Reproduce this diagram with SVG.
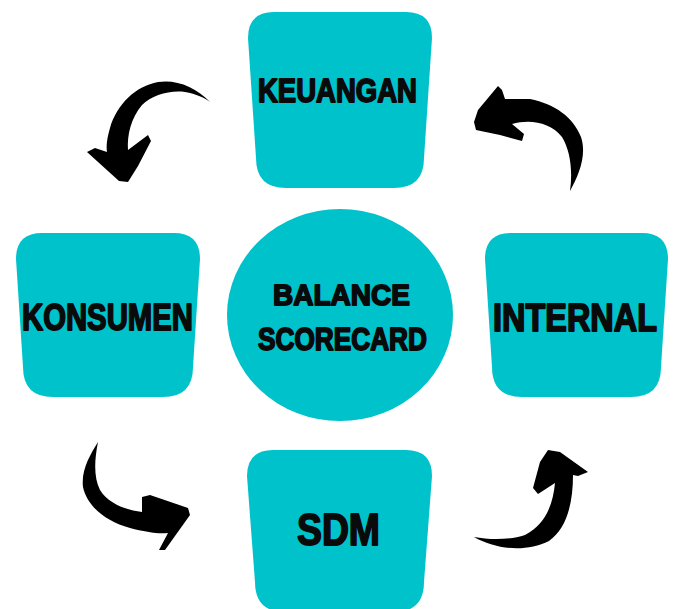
<svg xmlns="http://www.w3.org/2000/svg" width="675" height="609" viewBox="0 0 675 609">
  <style>
    .node { fill: #00C2CB; }
    .label { font-family: "Liberation Sans", "DejaVu Sans", Arial, sans-serif; font-weight: bold; fill: #0a0a0a; stroke: #0a0a0a; stroke-width: 1.8; stroke-linejoin: round; }
    .arrow { fill: #000; }
  </style>
  <rect width="675" height="609" fill="#fff"/>

  <!-- top: KEUANGAN -->
  <g id="keuangan">
    <path class="node" d="M274,12 H406 Q432,12 432,38 L424,158 Q424,188 394,188 H286 Q256,188 256,158 L248,38 Q248,12 274,12 Z"/>
    <text class="label" transform="translate(258,102) scale(0.834,1)" font-size="33">KEUANGAN</text>
  </g>

  <!-- left: KONSUMEN -->
  <g id="konsumen">
    <path class="node" d="M42,233 H174 Q200,233 200,259 L193,367 Q193,397 163,397 H53 Q23,397 23,367 L16,259 Q16,233 42,233 Z"/>
    <text class="label" transform="translate(22,330) scale(0.792,1)" font-size="37">KONSUMEN</text>
  </g>

  <!-- centre: BALANCE SCORECARD -->
  <g id="balance-scorecard">
    <ellipse class="node" cx="340" cy="315" rx="113" ry="106"/>
    <text class="label" transform="translate(273,305) scale(0.934,1)" font-size="30">BALANCE</text>
    <text class="label" transform="translate(258,350) scale(0.846,1)" font-size="31">SCORECARD</text>
  </g>

  <!-- right: INTERNAL -->
  <g id="internal">
    <path class="node" d="M511,233 H642 Q668,233 668,259 L661,367 Q661,397 631,397 H522 Q492,397 492,367 L485,259 Q485,233 511,233 Z"/>
    <text class="label" transform="translate(493,331) scale(0.854,1)" font-size="38">INTERNAL</text>
  </g>

  <!-- bottom: SDM -->
  <g id="sdm">
    <path class="node" d="M273,450 H406 Q432,450 432,476 L424,582 Q424,612 394,612 H285 Q255,612 255,582 L247,476 Q247,450 273,450 Z"/>
    <text class="label" transform="translate(297,545) scale(0.83,1)" font-size="45">SDM</text>
  </g>

  <!-- brush-stroke arrows running round the cycle -->
  <g id="connectors">
    <!-- KEUANGAN to KONSUMEN -->
    <path class="arrow" d="M210,102 C196,87 176,79 158,82 C136,86 117,104 110,128 C107,138 106,146 107,152 L95,148 L87,152 L119,181 L128,182 L138,166 L151,141 L148,135 L128,150 C127,135 131,118 142,105 C152,95 170,90 185,92 C196,94 205,98 210,102 Z"/>
    <!-- KONSUMEN to SDM -->
    <path class="arrow" d="M98,442 C90,455 81,470 83,487 C87,506 105,521 130,528 C145,532 158,534 168,533 L159,550 L165,550 L190,515 L188,508 L150,495 L142,497 L142,512 C125,510 108,503 100,490 C94,478 94,462 98,442 Z"/>
    <!-- SDM to INTERNAL -->
    <path class="arrow" d="M474,537 C495,549 525,553 549,541 C566,529 573,505 573,475 L578,476 L588,472 L560,452 L548,450 L540,462 L533,488 L538,494 L555,483 C553,505 545,525 525,535 C510,540 490,540 474,537 Z"/>
    <!-- INTERNAL to KEUANGAN -->
    <path class="arrow" d="M570,191 C579,175 587,155 581,137 C573,117 555,104 530,99 L505,99 L502,90 L498,86 L478,110 L474,122 L476,130 L500,135 L522,141 L524,134 L512,124 C530,119 550,122 562,137 C570,150 573,170 570,191 Z"/>
  </g>
</svg>
